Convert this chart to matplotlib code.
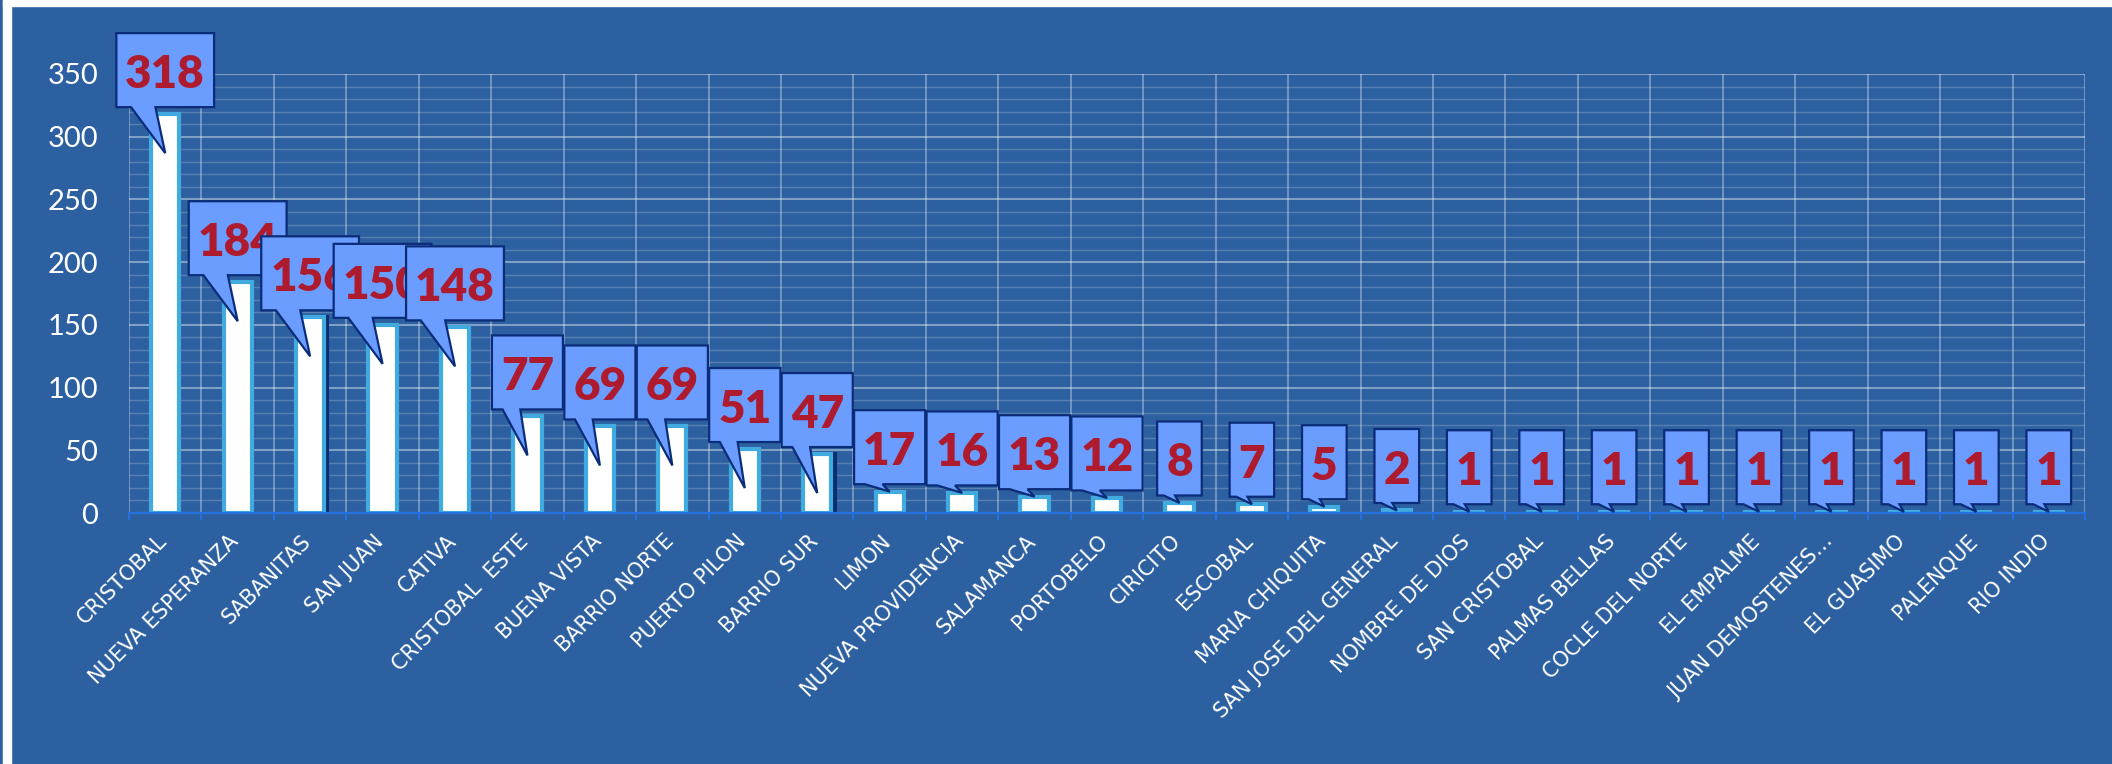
import matplotlib
matplotlib.use("Agg")
import matplotlib.pyplot as plt
from matplotlib.patches import Polygon, Rectangle
from matplotlib.transforms import IdentityTransform, ScaledTranslation
import numpy as np

# ---------------- data ----------------
categories = [
    "CRISTOBAL", "NUEVA ESPERANZA", "SABANITAS", "SAN JUAN", "CATIVA",
    "CRISTOBAL  ESTE", "BUENA VISTA", "BARRIO NORTE", "PUERTO PILON", "BARRIO SUR",
    "LIMON", "NUEVA PROVIDENCIA", "SALAMANCA", "PORTOBELO", "CIRICITO",
    "ESCOBAL", "MARIA CHIQUITA", "SAN JOSE DEL GENERAL", "NOMBRE DE DIOS",
    "SAN CRISTOBAL", "PALMAS BELLAS", "COCLE DEL NORTE", "EL EMPALME",
    "JUAN DEMOSTENES…", "EL GUASIMO", "PALENQUE", "RIO INDIO",
]
values = [318, 184, 156, 150, 148, 77, 69, 69, 51, 47,
          17, 16, 13, 12, 8, 7, 5, 2, 1, 1, 1, 1, 1, 1, 1, 1, 1]
y_ticks = [0, 50, 100, 150, 200, 250, 300, 350]

# bars that show a dark drop shadow in the reference
shadowed = [2, 9]

# ---------------- style ----------------
BG = "#2D60A0"
BAR_EDGE = "#41AADF"
AXIS_BLUE = "#2470E0"
BOX_FACE = "#6A9DFF"
BOX_EDGE = "#0B2C78"
LABEL_RED = "#AF1B2E"

W, H, DPI = 2112, 764, 100
L, R, T, B = 129, 2085, 74, 513

fig = plt.figure(figsize=(W / DPI, H / DPI), dpi=DPI, facecolor=BG)
ax = fig.add_axes([L / W, (H - B) / H, (R - L) / W, (B - T) / H])
ax.set_facecolor(BG)

x = np.arange(len(categories))

# shadows
for i in shadowed:
    ax.bar(x[i] + 0.045, values[i], width=0.39, color="#0B2C70",
           edgecolor="#0B2C70", linewidth=2.9, zorder=2)

ax.bar(x, values, width=0.39, color="white", edgecolor=BAR_EDGE,
       linewidth=3.0, zorder=3)

ax.set_xlim(-0.5, len(categories) - 0.5)
ax.set_ylim(0, 350)

# grid
ax.set_xticks(x)
ax.set_xticks(np.arange(-0.5, len(categories), 1), minor=True)
ax.set_yticks(y_ticks)
ax.set_yticks(np.arange(0, 351, 10), minor=True)
ax.grid(which="minor", axis="x", color="white", alpha=0.35, lw=1.3, zorder=1)
ax.grid(which="major", axis="y", color="white", alpha=0.40, lw=1.5, zorder=1)
ax.grid(which="minor", axis="y", color="white", alpha=0.20, lw=1.0, zorder=1)
ax.grid(which="major", axis="x", visible=False)
ax.set_axisbelow(True)

for s in ["top", "right", "left"]:
    ax.spines[s].set_visible(False)
ax.spines["bottom"].set_color(AXIS_BLUE)
ax.spines["bottom"].set_linewidth(1.6)
ax.spines["bottom"].set_zorder(4)

ax.tick_params(axis="x", which="major", length=0, pad=13)
ax.tick_params(axis="x", which="minor", length=5, width=1.5, color=AXIS_BLUE,
               direction="out")
ax.tick_params(axis="y", which="both", length=0, pad=22)
ax.set_yticklabels([str(v) for v in y_ticks], color="white",
                   fontsize=21, family="Lato")
ax.set_xticklabels(categories, rotation=45, ha="right", va="top",
                   rotation_mode="anchor", color="white", fontsize=15,
                   family="DejaVu Sans")
shift = ScaledTranslation(-9 / DPI, 0, fig.dpi_scale_trans)
for lab in ax.get_xticklabels():
    lab.set_transform(lab.get_transform() + shift)

# white frame strips (left & top)
fig.add_artist(Rectangle((3 / W, 0), 8 / W, 1, transform=fig.transFigure,
                         color="white", zorder=0.5))
fig.add_artist(Rectangle((3 / W, 1 - 6 / H), 1, 6 / H,
                         transform=fig.transFigure, color="white", zorder=0.5))

# ---------------- callout labels ----------------
fig.canvas.draw()
renderer = fig.canvas.get_renderer()
idt = IdentityTransform()
BOX_H = 74
PAD = 9
em = 33 * DPI / 72.0
digit_h = 0.7165 * em

for i, v in enumerate(values):
    px, py = ax.transData.transform((x[i], v))
    _, p0 = ax.transData.transform((x[i], 0))
    bar_px = py - p0
    if bar_px > 45:
        tip_y = py - 39
        yb = tip_y + 46
    else:
        tip_y = py
        yb = tip_y + 7.5
    yt = yb + BOX_H
    z = 10 + 2 * i
    t = ax.text(px, (yb + yt) / 2 - digit_h / 2 - 1.5, str(v), transform=idt,
                ha="center", va="baseline", fontsize=33, fontweight="heavy",
                family="Lato", color=LABEL_RED, zorder=z + 1, clip_on=False)
    tw = t.get_window_extent(renderer).width
    w = tw + 2 * PAD
    lft = px - w / 2
    rgt = px + w / 2
    pts = [(lft, yt), (rgt, yt), (rgt, yb), (lft + 0.40 * w, yb),
           (px, tip_y), (lft + 0.15 * w, yb), (lft, yb)]
    poly = Polygon(pts, closed=True, transform=idt, facecolor=BOX_FACE,
                   edgecolor=BOX_EDGE, linewidth=1.6, zorder=z,
                   joinstyle="miter", clip_on=False)
    ax.add_artist(poly)

fig.savefig("out.png", dpi=DPI, facecolor=BG)
